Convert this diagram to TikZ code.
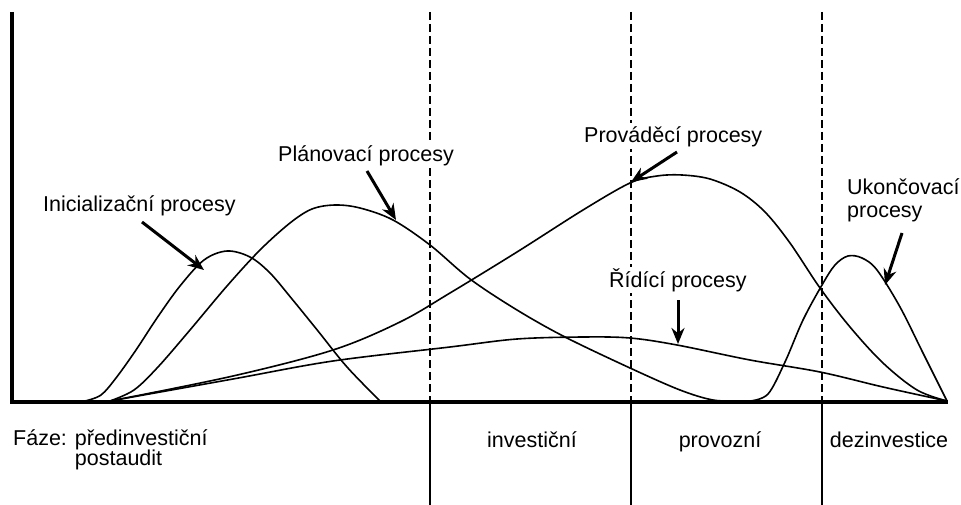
\documentclass[tikz,border=0pt]{standalone}
\usepackage{fontspec}
\setmainfont{Liberation Sans}
\usepackage{tikz}
\usetikzlibrary{arrows.meta}

\begin{document}
\begin{tikzpicture}[x=1pt, y=-1pt,
                    axis/.style={line width=3.5pt, black},
                    phasedash/.style={line width=1.8pt, black, dash pattern=on 8pt off 4pt},
                    phaseline/.style={line width=1.2pt, black},
                    curve/.style={line width=1.6pt, black, line join=round},
                    pointer/.style={line width=3pt, black, -{Stealth[length=16pt,width=13pt]}},
                    lbl/.style={font=\fontsize{21.5pt}{23pt}\selectfont, inner xsep=1pt, inner ysep=2pt},
                    proc/.style={lbl, fill=white, anchor=base west, text height=18pt},
                   ]

\useasboundingbox (0,0) rectangle (961,505);

% phase boundaries
\coordinate (inv-top) at (430,12);
\coordinate (inv-mid) at (430,402);
\coordinate (inv-bot) at (430,505);
\coordinate (pro-top) at (631,12);
\coordinate (pro-mid) at (631,402);
\coordinate (pro-bot) at (631,505);
\coordinate (dez-top) at (822,12);
\coordinate (dez-mid) at (822,402);
\coordinate (dez-bot) at (822,505);

\draw[phasedash] (inv-top) -- (inv-mid);
\draw[phasedash] (pro-top) -- (pro-mid);
\draw[phasedash] (dez-top) -- (dez-mid);
\draw[phaseline] (inv-mid) -- (inv-bot);
\draw[phaseline] (pro-mid) -- (pro-bot);
\draw[phaseline] (dez-mid) -- (dez-bot);

% process labels
\node[proc] (ini)  at (42,212)  {Inicializační procesy};
\node[proc] (plan) at (277,162) {Plánovací procesy};
\node[proc] (prov) at (583,143) {Prováděcí procesy};
\node[proc] (rid)  at (608,287) {Řídící procesy};
\node[lbl, anchor=base west] (ukon) at (846,195)
     {\begin{tabular}[t]{@{}l@{}}Ukončovací\\procesy\end{tabular}};

% axes
\coordinate (ytop) at (12,12);
\coordinate (origin) at (12,402);
\coordinate (xend) at (948,402);
\draw[axis] (ytop) -- (origin) -- (xend);

% process curves
\draw[curve] plot[smooth, tension=0.55] coordinates {(85,401) (101,395) (116,378) (136,350)
      (157,318) (180,286) (204,260) (227,251) (250,257) (270,273) (292,299) (318,331)
      (347,367) (380,401)};
\draw[curve] plot[smooth, tension=0.55] coordinates {(110,401) (134,390) (158,367) (190,330)
      (227,286) (260,250) (290,223) (312,209) (335,205) (360,208) (393,220) (430,245)
      (470,279) (517,310) (565,337) (630,368) (680,390) (713,400) (740,401)};
\draw[curve] plot[smooth, tension=0.55] coordinates {(110,401) (233,376) (333,350) (400,322)
      (450,293) (517,252) (583,210) (630,183) (657,176) (682,175) (710,179) (740,192)
      (765,212) (790,243) (820,288) (850,327) (883,363) (917,390) (947,401)};
\draw[curve] plot[smooth, tension=0.55] coordinates {(110,401) (233,379) (333,361) (450,347)
      (517,339) (583,337) (630,338) (677,345) (750,360) (820,372) (883,387) (947,401)};
\draw[curve] plot[smooth, tension=0.55] coordinates {(750,401) (768,394) (785,362) (803,320)
      (822,285) (835,265) (848,256) (862,258) (877,270) (900,307) (923,353) (947,401)};

% pointers
\coordinate (ini-tail) at (142,222);
\coordinate (ini-tip) at (204,270);
\coordinate (plan-tail) at (367,171);
\coordinate (plan-tip) at (396,220);
\coordinate (prov-tail) at (677,152);
\coordinate (prov-tip) at (631,182);
\coordinate (rid-tail) at (678,300);
\coordinate (rid-tip) at (678,344);
\coordinate (ukon-tail) at (902,233);
\coordinate (ukon-tip) at (885,285);

\draw[pointer] (ini-tail) -- (ini-tip);
\draw[pointer] (plan-tail) -- (plan-tip);
\draw[pointer] (prov-tail) -- (prov-tip);
\draw[pointer] (rid-tail) -- (rid-tip);
\draw[pointer] (ukon-tail) -- (ukon-tip);

% phases
\node[lbl, anchor=base west] (faze) at (12,445)
     {\begin{tabular}[t]{@{}l@{}}Fáze: předinvestiční\\[-3pt]\phantom{Fáze: }postaudit\end{tabular}};
\node[lbl, anchor=base] (inv) at (532,447) {investiční};
\node[lbl, anchor=base] (pro) at (720,447) {provozní};
\node[lbl, anchor=base] (dez) at (889,447) {dezinvestice};

\end{tikzpicture}
\end{document}
